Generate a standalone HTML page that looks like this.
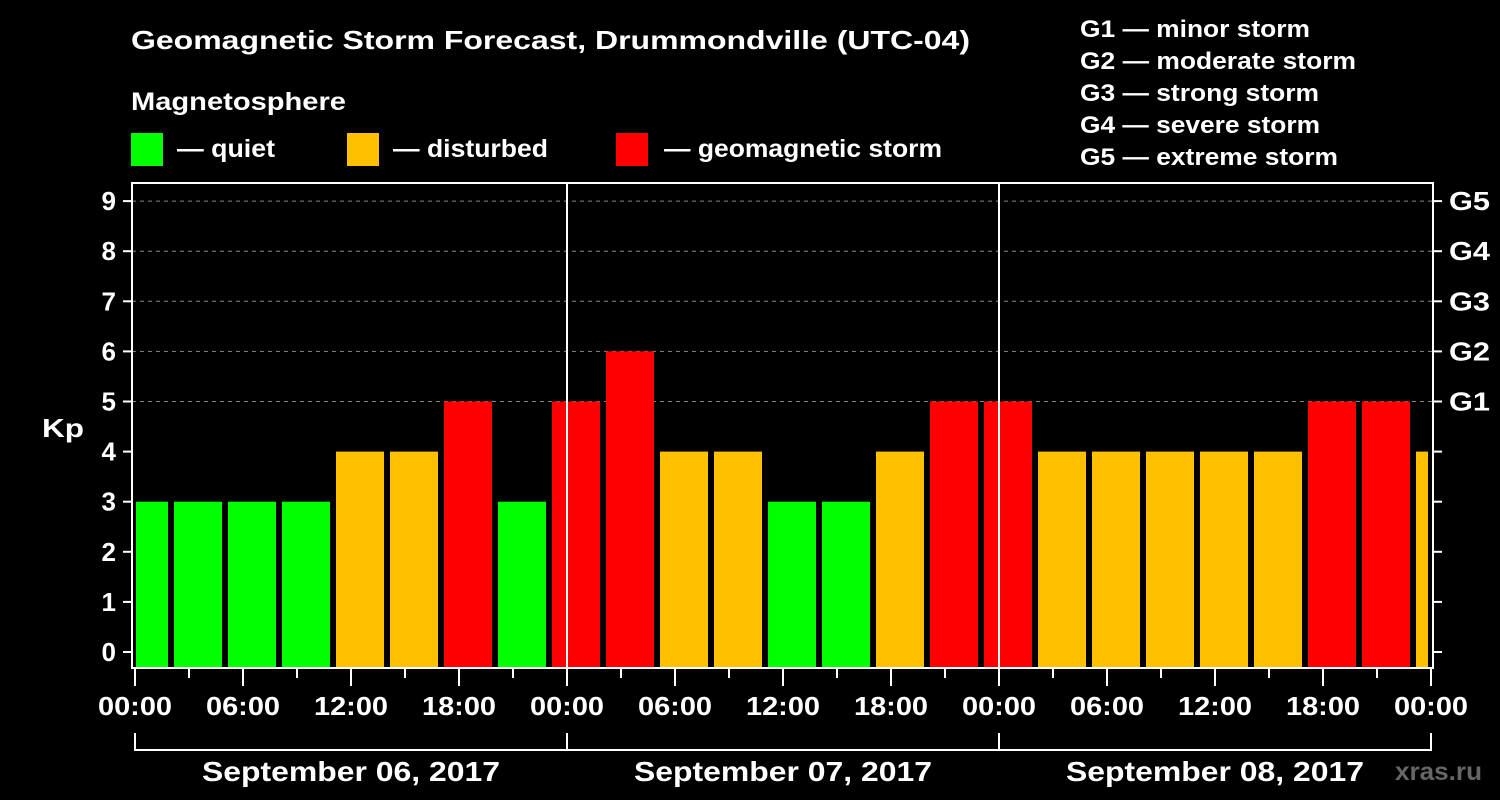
<!DOCTYPE html>
<html><head><meta charset="utf-8"><style>
html,body{margin:0;padding:0;background:#000;}
svg{display:block;font-family:"Liberation Sans",Arial,sans-serif;font-weight:bold;}
</style></head><body>
<svg id="chart" width="1500" height="800" viewBox="0 0 1500 800">
<rect width="1500" height="800" fill="#000"/>
<text x="131" y="49" fill="#fff" font-size="26" textLength="839" lengthAdjust="spacingAndGlyphs">Geomagnetic Storm Forecast, Drummondville (UTC-04)</text>
<text x="131" y="110" fill="#fff" font-size="25" textLength="215" lengthAdjust="spacingAndGlyphs">Magnetosphere</text>
<g>
<rect x="131" y="133" width="32" height="33" fill="#00ff00"/>
<text x="177" y="157" fill="#fff" font-size="25" textLength="98" lengthAdjust="spacingAndGlyphs">— quiet</text></g>
<g>
<rect x="347" y="133" width="32" height="33" fill="#ffc000"/>
<text x="393" y="157" fill="#fff" font-size="25" textLength="155" lengthAdjust="spacingAndGlyphs">— disturbed</text></g>
<g>
<rect x="616" y="133" width="32" height="33" fill="#ff0000"/>
<text x="664" y="157" fill="#fff" font-size="25" textLength="278" lengthAdjust="spacingAndGlyphs">— geomagnetic storm</text></g>
<g font-size="24" fill="#fff">
<text x="1080" y="37" textLength="230" lengthAdjust="spacingAndGlyphs">G1 — minor storm</text>
<text x="1080" y="69" textLength="276" lengthAdjust="spacingAndGlyphs">G2 — moderate storm</text>
<text x="1080" y="101" textLength="239" lengthAdjust="spacingAndGlyphs">G3 — strong storm</text>
<text x="1080" y="133" textLength="240" lengthAdjust="spacingAndGlyphs">G4 — severe storm</text>
<text x="1080" y="165" textLength="258" lengthAdjust="spacingAndGlyphs">G5 — extreme storm</text>
</g>
<text x="42" y="437" fill="#fff" font-size="26" textLength="42" lengthAdjust="spacingAndGlyphs">Kp</text>
<text x="1395" y="780" fill="#666" font-size="25" textLength="87" lengthAdjust="spacingAndGlyphs">xras.ru</text>
<g id="plot"></g>
</svg>
<script>
const kpValues=[3,3,3,3,4,4,5,3,5,6,4,4,3,3,4,5,5,4,4,4,4,4,5,5,4];
const yTicks=[0,1,2,3,4,5,6,7,8,9];
const gLabels=["G1","G2","G3","G4","G5"];
const gLevels=[5,6,7,8,9];
const xTickLabels=["00:00","06:00","12:00","18:00","00:00","06:00","12:00","18:00","00:00","06:00","12:00","18:00","00:00"];
const dayLabels=["September 06, 2017","September 07, 2017","September 08, 2017"];

const NS="http://www.w3.org/2000/svg";
const L=132,R=1433,T=183,B=668;
const X0=135,HOURPX=18;
const yS=v=>652-v*50.1;
const xS=h=>X0+h*HOURPX;
const g=document.getElementById('plot');
function mk(tag,at,parent){const e=document.createElementNS(NS,tag);for(const k in at)e.setAttribute(k,at[k]);(parent||g).appendChild(e);return e;}
gLevels.forEach(v=>{
 const l=mk('line',{x1:L,x2:R,y1:yS(v),y2:yS(v),stroke:'#888','stroke-dasharray':'4,4','stroke-width':1});
 
 
});
kpValues.forEach((v,i)=>{
 let x1=xS(i*3-0.833),x2=x1+48;
 x1=Math.max(x1,136);x2=Math.min(x2,1428);
 const c=v>=5?'#ff0000':(v>=4?'#ffc000':'#00ff00');
 const r=mk('rect',{x:x1,y:yS(v),width:x2-x1,height:B-yS(v),fill:c});
 
 
});
[1,2].forEach(d=>{
 const l=mk('line',{x1:xS(d*24),x2:xS(d*24),y1:T,y2:B,stroke:'#fff','stroke-width':2});
 
 
});
const f=mk('rect',{x:L,y:T,width:R-L,height:B-T,fill:'none',stroke:'#fff','stroke-width':2});


yTicks.forEach(v=>{
 mk('line',{x1:L-9,x2:L,y1:yS(v),y2:yS(v),stroke:'#fff','stroke-width':2});
 mk('line',{x1:R,x2:R+9,y1:yS(v),y2:yS(v),stroke:'#fff','stroke-width':2});
 const t=mk('text',{x:116,y:yS(v)+9,fill:'#fff','font-size':26,'text-anchor':'end'});
 t.textContent=v;
 
 
});
gLabels.forEach((s,i)=>{
 const t=mk('text',{x:1449,y:yS(gLevels[i])+9,fill:'#fff','font-size':26,textLength:41,lengthAdjust:'spacingAndGlyphs'});
 t.textContent=s;
 
 
});
for(let h=0;h<=72;h+=3){
 const major=h%6===0;
 mk('line',{x1:xS(h),x2:xS(h),y1:B,y2:B+(major?18:10),stroke:'#fff','stroke-width':2});
}
xTickLabels.forEach((s,i)=>{
 const t=mk('text',{x:xS(i*6)-37,y:715,fill:'#fff','font-size':26,textLength:74,lengthAdjust:'spacingAndGlyphs'});
 t.textContent=s;
 
 
});
dayLabels.forEach((s,i)=>{
 const a=xS(i*24),b=xS((i+1)*24);
 mk('path',{d:`M${a} 733V750H${b}V733`,stroke:'#fff','stroke-width':2,fill:'none'});
 const t=mk('text',{x:(a+b)/2-149,y:781,fill:'#fff','font-size':28,textLength:298,lengthAdjust:'spacingAndGlyphs'});
 t.textContent=s;
 
 
});
</script>
</body></html>
